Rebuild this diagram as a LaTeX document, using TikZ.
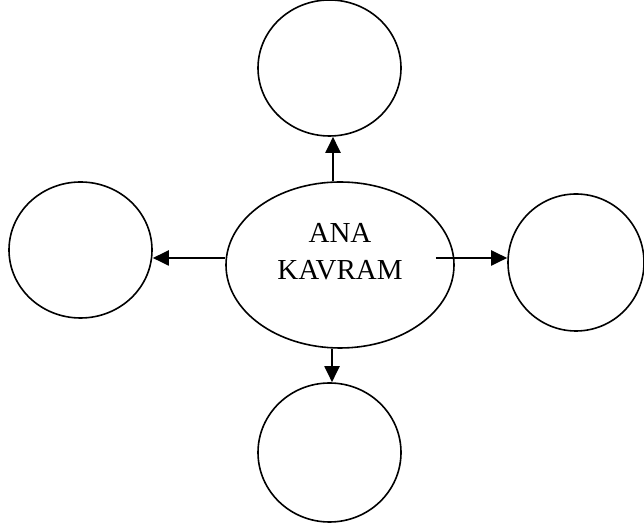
\documentclass[tikz,border=0pt]{standalone}
\usepackage{fontspec}
\setmainfont{Liberation Serif}
\usetikzlibrary{arrows.meta,shapes.geometric}
\begin{document}
\begin{tikzpicture}[x=1pt,y=1pt,
  bubble/.style={draw,ellipse,line width=1.6pt,inner sep=0pt},
  arr/.style={line width=2pt,-{Triangle[length=16pt,width=15pt]}}]
\useasboundingbox (0,0) rectangle (644,526);
\node[bubble,minimum width=228pt,minimum height=166pt] (c) at (340,261) {};
\node[font=\fontsize{29}{37}\selectfont,align=center,inner sep=0pt] (ctext) at (340,274.5) {ANA\\KAVRAM};
\node[bubble,minimum width=143pt,minimum height=136pt] (top) at (329.5,458) {};
\node[bubble,minimum width=143pt,minimum height=139pt] (bottom) at (329.5,73.5) {};
\node[bubble,minimum width=143pt,minimum height=136pt] (left) at (80.5,276) {};
\node[bubble,minimum width=136pt,minimum height=137pt] (right) at (576,263.5) {};
\draw[arr] ([xshift=-7pt]c.north) -- ([xshift=3.5pt]top.south);
\draw[arr] ([xshift=-8pt]c.south) -- ([xshift=2.5pt]bottom.north);
\draw[arr] ([yshift=7pt]c.west) -- ([yshift=-8pt]left.east);
\draw[arr] ([xshift=-19pt,yshift=7pt]c.east) -- ([yshift=4.5pt]right.west);
\end{tikzpicture}
\end{document}
